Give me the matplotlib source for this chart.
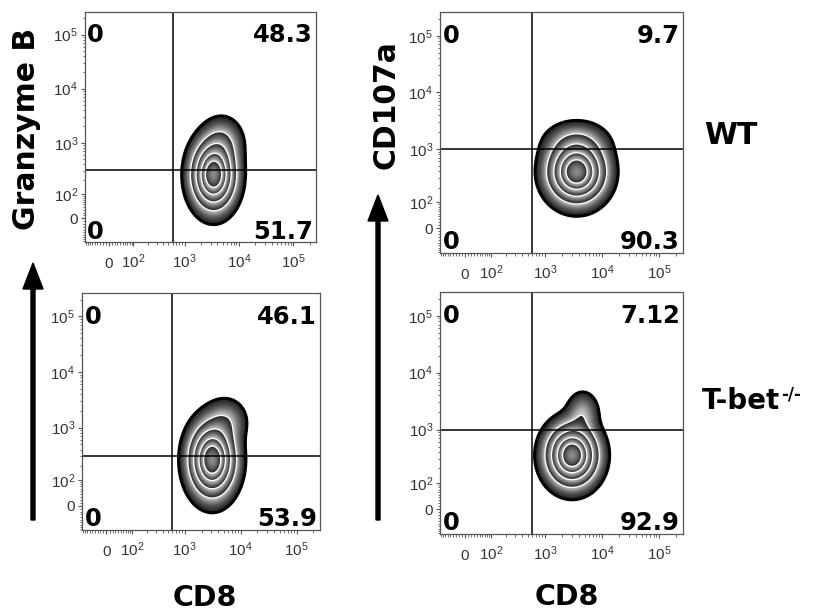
import numpy as np
import matplotlib
matplotlib.use('Agg')
import matplotlib.pyplot as plt
from matplotlib.patches import FancyArrow

plt.rcParams['font.family'] = 'Liberation Sans'
plt.rcParams['mathtext.fontset'] = 'custom'
plt.rcParams['mathtext.rm'] = 'Liberation Sans'
plt.rcParams['mathtext.it'] = 'Liberation Sans'
plt.rcParams['mathtext.bf'] = 'DejaVu Sans:bold'
plt.rcParams['mathtext.default'] = 'rm'

# quadrant percentages: upper-left, upper-right, lower-left, lower-right
pct_gzmb_wt = [0, 48.3, 0, 51.7]
pct_cd107_wt = [0, 9.7, 0, 90.3]
pct_gzmb_ko = [0, 46.1, 0, 53.9]
pct_cd107_ko = [0, 7.12, 0, 92.9]

# quadrant gates
cd8_gate = 600
gzmb_gate = 310
cd107_gate = 1000

# cell populations: CD8 centre, marker centre, CD8 spread (decades), marker spread (decades), weight
pop_gzmb_wt = [[3400, 250, 0.21, 0.33, 1.0], [5000, 1000, 0.20, 0.25, 0.12]]
pop_cd107_wt = [[3600, 390, 0.26, 0.28, 1.0], [3600, 1300, 0.30, 0.20, 0.10]]
pop_gzmb_ko = [[3100, 260, 0.215, 0.34, 1.0], [5500, 1300, 0.20, 0.22, 0.10]]
pop_cd107_ko = [[3000, 350, 0.235, 0.28, 1.0], [4600, 2000, 0.15, 0.20, 0.10]]

tick_vals = [0, 100, 1000, 10000, 100000]
tick_labels = ['0', '$10^2$', '$10^3$', '$10^4$', '$10^5$']
minor_vals = ([-m * 10 for m in range(1, 10)] + [m * 10 for m in range(1, 10)]
              + [m * 10 ** k for k in range(2, 5) for m in range(2, 10)] + [200000])

A0 = 80.0
DEC = A0 * np.log(10)
LO, HI = -95, 262144


def to_u(v):
    return A0 * np.arcsinh(np.asarray(v, dtype=float) / A0)


def from_u(u):
    return A0 * np.sinh(u / A0)


g = np.linspace(to_u(LO), to_u(HI), 600)
UX, UY = np.meshgrid(g, g)
X, Y = from_u(UX), from_u(UY)


def density(pop):
    d = np.zeros_like(UX)
    for cx, cy, sx, sy, w in pop:
        dx = (UX - to_u(cx)) / DEC / sx
        dy = (UY - to_u(cy)) / DEC / sy
        d += w * np.exp(-0.5 * (dx ** 2 + dy ** 2))
    return d / d.max()


levels = np.array([0.02, 0.13, 0.31, 0.55, 0.78])
tops = np.append(levels[1:], 1.15)

fig = plt.figure(figsize=(8.16, 6.14), dpi=100)


def panel(box, pop, pct, ygate):
    l, t, r, b = box
    ax = fig.add_axes([l / 816, 1 - b / 614, (r - l) / 816, (b - t) / 614])
    ax.set_xscale('asinh', linear_width=A0)
    ax.set_yscale('asinh', linear_width=A0)
    ax.set_xlim(LO, HI)
    ax.set_ylim(LO, HI)

    d = density(pop)
    k = np.clip(np.searchsorted(levels, d, side='right') - 1, 0, len(levels) - 1)
    frac = (d - levels[k]) / (tops[k] - levels[k])
    shade = np.ma.masked_where(d < levels[0], 0.12 + 0.7 * frac)
    ax.pcolormesh(X, Y, shade, cmap='gray', vmin=0, vmax=1, shading='auto')
    ax.contour(X, Y, d, levels=levels[1:], colors='white', linewidths=0.9)
    ax.contour(X, Y, d, levels=[levels[0]], colors='black', linewidths=2.2)

    ax.axvline(cd8_gate, color='black', lw=1.1)
    ax.axhline(ygate, color='black', lw=1.1)

    for axis in (ax.xaxis, ax.yaxis):
        axis.set_ticks(tick_vals)
        axis.set_ticklabels(tick_labels)
        axis.set_ticks(minor_vals, minor=True)
    ax.tick_params(which='major', length=3, width=0.8, color='#555', labelsize=11, labelcolor='#333')
    ax.tick_params(which='minor', length=1.8, width=0.6, color='#555')
    ax.tick_params(axis='y', which='major', pad=2)
    ax.tick_params(axis='x', which='major', pad=15.5)
    plt.setp(ax.get_xticklabels(), va='baseline')
    for s in ax.spines.values():
        s.set_color('#555')
        s.set_linewidth(0.9)

    kw = dict(transform=ax.transAxes, fontsize=17.5, fontweight='bold', family='DejaVu Sans')
    ax.text(0.01, 0.95, str(pct[0]), ha='left', va='top', **kw)
    ax.text(0.987, 0.95, str(pct[1]), ha='right', va='top', **kw)
    ax.text(0.01, 0.015, str(pct[2]), ha='left', va='baseline', **kw)
    ax.text(0.987, 0.015, str(pct[3]), ha='right', va='baseline', **kw)
    return ax


panel((85, 12, 316, 242), pop_gzmb_wt, pct_gzmb_wt, gzmb_gate)
panel((440, 12, 683, 253), pop_cd107_wt, pct_cd107_wt, cd107_gate)
panel((82, 293, 320, 530), pop_gzmb_ko, pct_gzmb_ko, gzmb_gate)
ax_ko = panel((440, 292, 683, 534), pop_cd107_ko, pct_cd107_ko, cd107_gate)

bold = dict(fontweight='bold', family='DejaVu Sans', ha='center', va='center')
fig.text(27 / 816, 1 - 129 / 614, 'Granzyme B', rotation=90, fontsize=21.5, **bold)
fig.text(386 / 816, 1 - 105 / 614, 'CD107a', rotation=90, fontsize=21.5, **bold)
fig.text(205 / 816, 1 - 598 / 614, 'CD8', fontsize=20.5, **bold)
fig.text(567 / 816, 1 - 597 / 614, 'CD8', fontsize=20.5, **bold)
fig.text(731 / 816, 1 - 135 / 614, 'WT', fontsize=21.5, **bold)
tbet = fig.text(702 / 816, 1 - 401 / 614, 'T-bet', fontsize=20,
                fontweight='bold', family='DejaVu Sans', ha='left', va='center')
ax_ko.annotate('-/-', xy=(1, 1), xycoords=tbet, xytext=(0.5, 1), textcoords='offset points',
               ha='left', va='top', fontsize=12, fontweight='bold', family='DejaVu Sans',
               annotation_clip=False)

for x, y0, y1 in [(33, 520, 263), (378, 520, 195)]:
    fig.patches.append(FancyArrow(x / 816, 1 - y0 / 614, 0, (y0 - y1) / 614,
                                  width=4 / 816, head_width=20 / 816, head_length=26 / 614,
                                  length_includes_head=True, color='black',
                                  transform=fig.transFigure, figure=fig))

fig.savefig('out.png', dpi=100)
